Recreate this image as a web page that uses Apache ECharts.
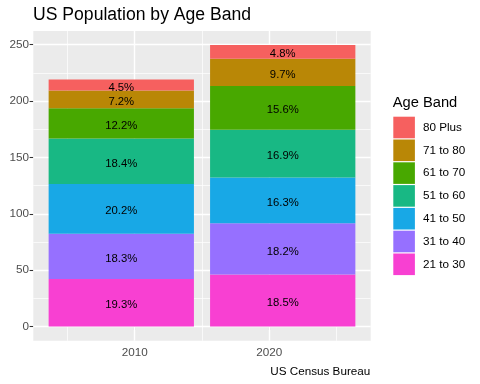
<!DOCTYPE html>
<html>
<head>
<meta charset="utf-8">
<script src="https://cdn.jsdelivr.net/npm/echarts@6/dist/echarts.min.js"></script>
<style>html,body{margin:0;padding:0;background:#fff}#c{width:480px;height:384px}</style>
</head>
<body>
<div id="c"></div>
<script>
// Data
const years = [2009, 2021];
const xTickLabels = [2010, 2020];
const bands = ['21 to 30', '31 to 40', '41 to 50', '51 to 60', '61 to 70', '71 to 80', '80 Plus'];
const pop2010 = [42.2, 40.1, 44.2, 40.3, 26.7, 15.8, 9.9];
const pop2020 = [46.2, 45.4, 40.7, 42.2, 38.9, 24.2, 12.0];
const pct2010 = ['19.3%', '18.3%', '20.2%', '18.4%', '12.2%', '7.2%', '4.5%'];
const pct2020 = ['18.5%', '18.2%', '16.3%', '16.9%', '15.6%', '9.7%', '4.8%'];
const yTickLabels = [0, 50, 100, 150, 200, 250];
const yMinor = [25, 75, 125, 175, 225];
const xMajor = [2010, 2020];
const xMinor = [2005, 2015, 2025];

const colors = ['#F840D2', '#9670FF', '#18A8E6', '#18B884', '#48A800', '#B98706', '#F6605F'];
const FONT = 'Liberation Sans, Arial, Helvetica, sans-serif';

const chart = echarts.init(document.getElementById('c'), null, {renderer: 'canvas'});

const gridLines = [];
yTickLabels.forEach(v => gridLines.push({yAxis: v, lineStyle: {width: 1.4}}));
yMinor.forEach(v => gridLines.push({yAxis: v, lineStyle: {width: 0.7}}));
xMajor.forEach(v => gridLines.push({xAxis: v, lineStyle: {width: 1.4}}));
xMinor.forEach(v => gridLines.push({xAxis: v, lineStyle: {width: 0.7}}));

const series = [{
  type: 'line',
  data: [],
  z: 1,
  silent: true,
  markLine: {
    z: 1,
    silent: true,
    symbol: ['none', 'none'],
    label: {show: false},
    lineStyle: {color: '#FFFFFF', type: 'solid'},
    emphasis: {disabled: true},
    animation: false,
    data: gridLines
  }
}];

bands.forEach((b, i) => {
  const labs = [pct2010[i], pct2020[i]];
  series.push({
    type: 'bar',
    name: b,
    stack: 'pop',
    z: 3,
    barWidth: '90%',
    itemStyle: {color: colors[i]},
    emphasis: {disabled: true},
    label: {
      show: true,
      position: 'inside',
      offset: [0, 2.5],
      color: '#000',
      fontSize: 11.3,
      fontFamily: FONT,
      formatter: p => labs[p.dataIndex]
    },
    // value first so the library stacks the population dimension
    encode: {x: 1, y: 0},
    data: [[pop2010[i], years[0]], [pop2020[i], years[1]]]
  });
});

chart.setOption({
  animation: false,
  title: [
    {text: 'US Population by Age Band', left: 33, top: 6.5, padding: 0,
     textStyle: {fontSize: 17.6, fontWeight: 'normal', color: '#000', fontFamily: FONT}},
    {text: 'Age Band', left: 392.7, top: 95, padding: 0,
     textStyle: {fontSize: 14.7, fontWeight: 'normal', color: '#000', fontFamily: FONT}},
    {text: 'US Census Bureau', right: 109.7, top: 365.5, padding: 0,
     textStyle: {fontSize: 11.7, fontWeight: 'normal', color: '#000', fontFamily: FONT}}
  ],
  legend: {
    orient: 'vertical',
    left: 393.3,
    top: 116.7,
    padding: 0,
    itemWidth: 21.6,
    itemHeight: 21.6,
    itemGap: 1.2,
    icon: 'rect',
    selectedMode: false,
    data: bands.slice().reverse(),
    textStyle: {fontSize: 11.7, color: '#000', fontFamily: FONT, padding: [0, 0, 0, 3]}
  },
  grid: {
    left: 33.3, right: 109.3, top: 31, bottom: 43.3,
    show: true, backgroundColor: '#EBEBEB', borderWidth: 0
  },
  xAxis: {
    type: 'value',
    min: 2002.46,
    max: 2027.54,
    axisLine: {show: false},
    splitLine: {show: false},
    axisTick: {show: true, customValues: xTickLabels, length: 3.7, lineStyle: {color: '#333', width: 1.07}},
    axisLabel: {customValues: xTickLabels, margin: 6.5, fontSize: 11.7, color: '#4D4D4D', fontFamily: FONT,
                formatter: v => String(v)}
  },
  yAxis: {
    type: 'value',
    min: -12.48,
    max: 262.1,
    axisLine: {show: false},
    splitLine: {show: false},
    axisTick: {show: true, customValues: yTickLabels, length: 3.7, lineStyle: {color: '#333', width: 1.07}},
    axisLabel: {customValues: yTickLabels, margin: 4.3, fontSize: 11.7, color: '#4D4D4D', fontFamily: FONT}
  },
  series: series
});
</script>
</body>
</html>
